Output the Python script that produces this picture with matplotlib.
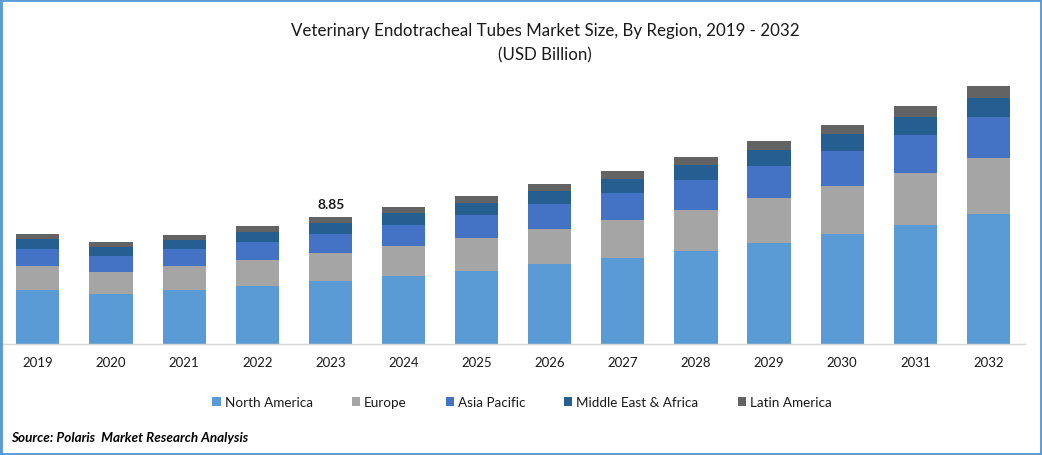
import matplotlib
matplotlib.use("Agg")
import matplotlib.pyplot as plt
import numpy as np

years = ["2019", "2020", "2021", "2022", "2023", "2024", "2025", "2026", "2027", "2028", "2029", "2030", "2031", "2032"]
north_america = [3.76, 3.48, 3.76, 4.04, 4.39, 4.74, 5.09, 5.57, 5.99, 6.48, 7.04, 7.67, 8.29, 9.06]
europe = [1.67, 1.53, 1.67, 1.81, 1.95, 2.09, 2.30, 2.44, 2.65, 2.86, 3.14, 3.34, 3.62, 3.90]
asia_pacific = [1.18, 1.11, 1.18, 1.25, 1.32, 1.46, 1.60, 1.74, 1.88, 2.09, 2.23, 2.44, 2.65, 2.86]
middle_east = [0.70, 0.63, 0.63, 0.70, 0.77, 0.84, 0.84, 0.91, 0.98, 1.05, 1.11, 1.18, 1.25, 1.32]
latin_america = [0.35, 0.35, 0.35, 0.42, 0.42, 0.42, 0.49, 0.49, 0.56, 0.56, 0.63, 0.63, 0.77, 0.84]

series = [
    ("North America", north_america, "#5B9BD5"),
    ("Europe", europe, "#A5A5A5"),
    ("Asia Pacific", asia_pacific, "#4472C4"),
    ("Middle East & Africa", middle_east, "#255E91"),
    ("Latin America", latin_america, "#636363"),
]

W, H = 1042, 456
plt.rcParams["font.family"] = ["Lato", "DejaVu Sans"]
fig = plt.figure(figsize=(W / 100, H / 100), dpi=100)

# axes box in pixels: left 2, right 1025, baseline at y=345, top at y=71
ax = fig.add_axes([2 / W, 1 - 345 / H, 1023 / W, 274 / H])
x = np.arange(len(years))
bottom = np.zeros(len(years))
handles = []
for name, values, color in series:
    bars = ax.bar(x, values, width=0.59, bottom=bottom, color=color, label=name)
    bottom += np.array(values)
    handles.append(bars)

ax.text(4.01, bottom[4] + 0.5, "8.85", ha="center", va="bottom", fontsize=10, fontweight="bold", color="#1a1a1a")

ax.set_xlim(-0.49, 13.5)
ax.set_ylim(0, 274 / 14.35)
ax.set_yticks([])
ax.set_xticks(x)
ax.set_xticklabels(years, fontsize=9.5, color="#1a1a1a")
ax.tick_params(axis="x", length=0, pad=9)
for side in ["top", "left", "right"]:
    ax.spines[side].set_visible(False)
ax.spines["bottom"].set_color("#D9D9D9")
ax.spines["bottom"].set_linewidth(1.0)

fig.text(545 / W, 1 - 31 / H, "Veterinary Endotracheal Tubes Market Size, By Region, 2019 - 2032",
         ha="center", va="center", fontsize=12.2, color="#1a1a1a")
fig.text(545 / W, 1 - 55 / H, "(USD Billion)", ha="center", va="center", fontsize=12.2, color="#1a1a1a")

fig.legend(handles=handles, loc="center", bbox_to_anchor=(522 / W, 1 - 403.5 / H), ncol=5, frameon=False,
           fontsize=9.7, handlelength=0.6, handleheight=0.6, handletextpad=0.3, columnspacing=2.9,
           labelcolor="#1a1a1a")

fig.text(11 / W, 1 - 438 / H, "Source: Polaris  Market Research Analysis", ha="left", va="center",
         fontsize=9.7, fontweight="bold", fontstyle="italic", color="black")

# blue frame around the picture
frame = plt.Rectangle((0, 0), 1, 1, transform=fig.transFigure, fill=False, edgecolor="#5B9BD5", linewidth=3.5)
fig.add_artist(frame)

fig.savefig("out.png", dpi=100)
